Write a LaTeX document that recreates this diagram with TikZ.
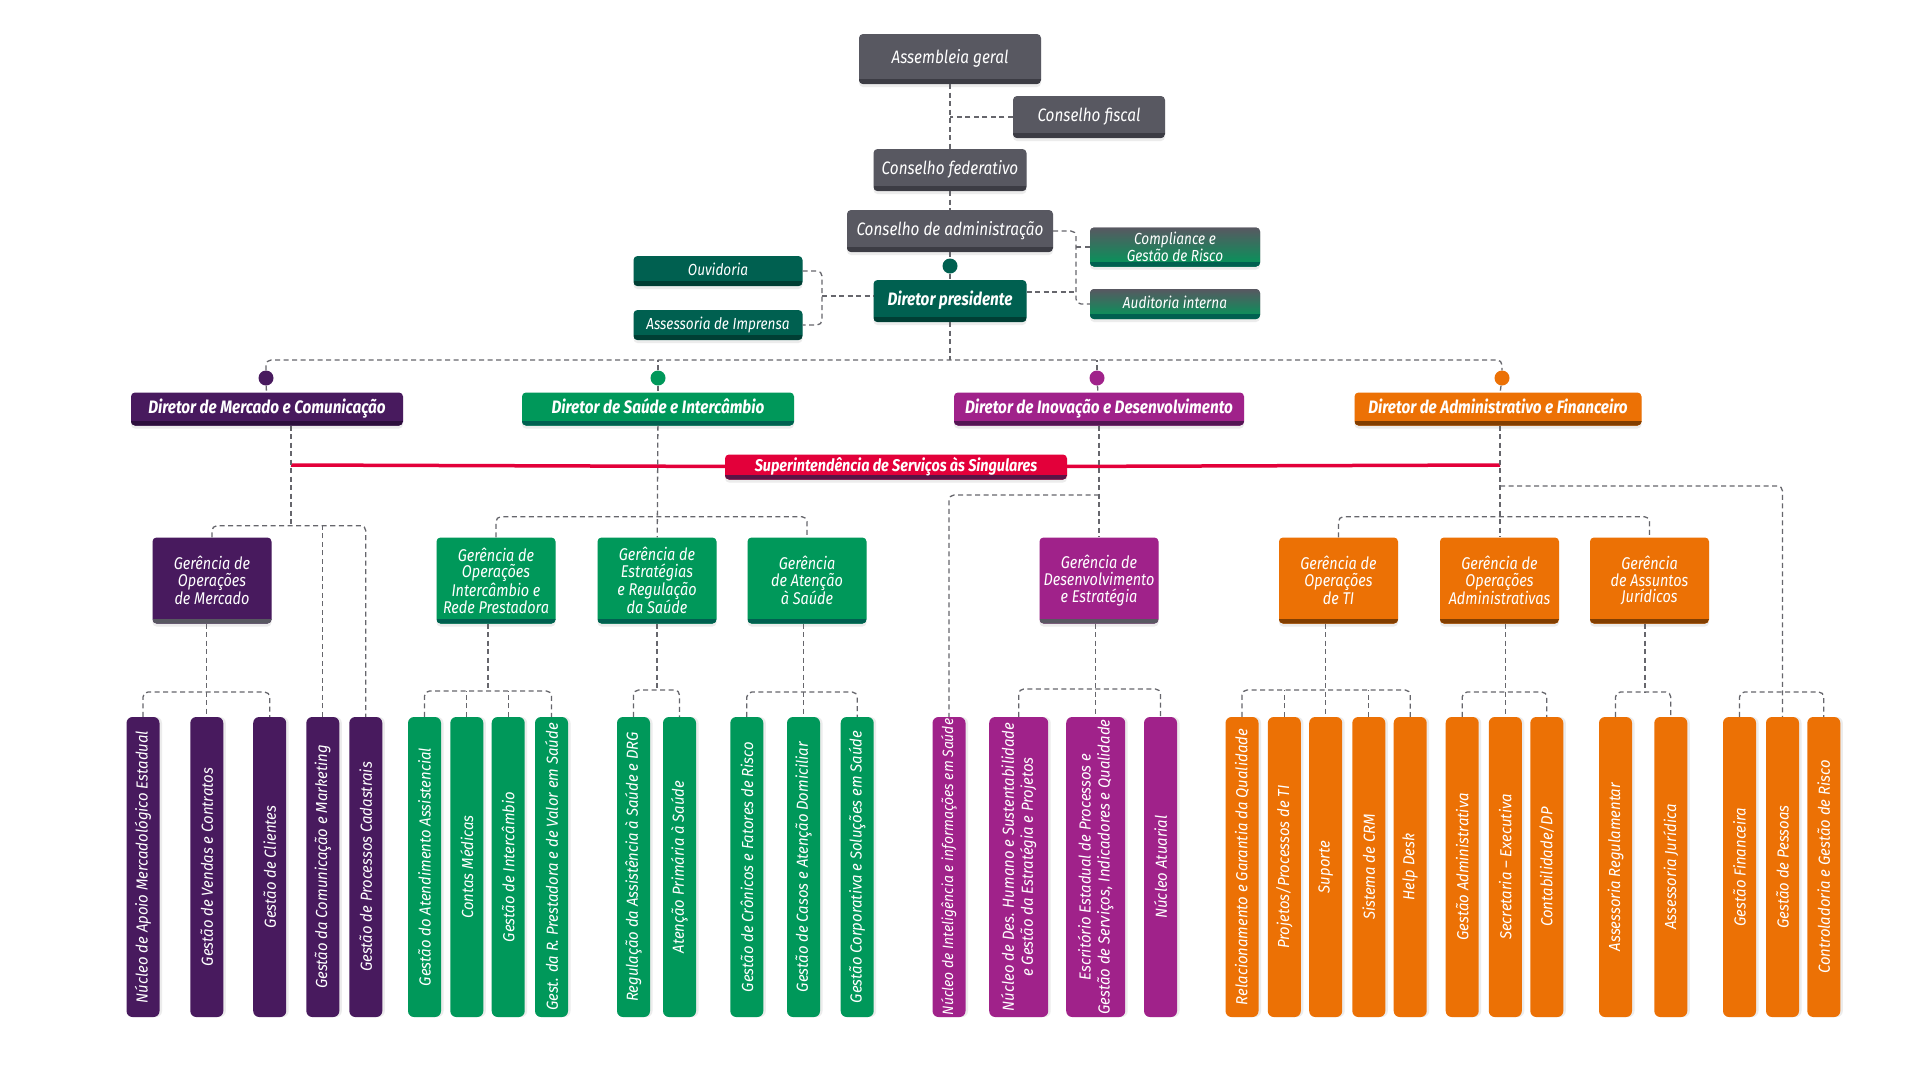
\documentclass[tikz,border=0pt]{standalone}
\usepackage{fontspec}
\setmainfont{Fira Sans}
\newfontfamily\orgfont{Fira Sans}[FakeStretch=0.85]
\newfontfamily\barfont{Fira Sans}[FakeStretch=0.93]
\usetikzlibrary{shadows}
\definecolor{cGray}{RGB}{88,88,97}
\definecolor{cGrayD}{RGB}{60,60,68}
\definecolor{cTeal}{RGB}{0,96,80}
\definecolor{cTealD}{RGB}{0,62,52}
\definecolor{cPurp}{RGB}{72,26,94}
\definecolor{cPurpD}{RGB}{44,14,60}
\definecolor{cGreen}{RGB}{0,152,90}
\definecolor{cMag}{RGB}{160,34,138}
\definecolor{cMagD}{RGB}{84,22,84}
\definecolor{cOrange}{RGB}{236,113,5}
\definecolor{cOrangeD}{RGB}{130,62,0}
\definecolor{cRed}{RGB}{227,0,58}
\definecolor{cRedD}{RGB}{90,20,70}
\definecolor{cLink}{RGB}{102,102,108}

\begin{document}
\begin{tikzpicture}[x=1pt,y=-1pt,
	box/.style 2 args={rounded corners=4pt, fill=#1, text=white, align=center, inner sep=0pt,
		drop shadow={shadow xshift=0pt, shadow yshift=-3pt, opacity=0.15},
		path picture={\fill[#2, sharp corners] (path picture bounding box.south west) rectangle ([yshift=5pt]path picture bounding box.south east);}},
	dot/.style={circle, fill=#1, inner sep=0pt, minimum size=15},
	link/.style={draw=cLink, line width=1.3pt, dash pattern=on 5pt off 3.5pt, rounded corners=5pt},
	redline/.style={draw=cRed, line width=3.5pt},
	bar/.style={rounded corners=6pt, fill=#1, text=white, align=center, inner sep=0pt, rotate=90,
		minimum width=300, drop shadow={shadow xshift=2.5pt, shadow yshift=0pt, opacity=0.15},
		font=\barfont\itshape\fontsize{16}{19}\selectfont},
	topf/.style={font=\orgfont\itshape\fontsize{18}{18}\selectfont, text height=13pt, text depth=4pt},
	boldf/.style={font=\orgfont\bfseries\itshape\fontsize{18}{18}\selectfont, text height=13pt, text depth=4pt},
	smallf/.style={font=\orgfont\itshape\fontsize{16}{15}\selectfont},
	oneline/.style={text height=11.5pt, text depth=3.5pt},
	gerf/.style={font=\orgfont\itshape\fontsize{17}{16.7}\selectfont, minimum width=119, minimum height=86}]
	\fill[white] (0,0) rectangle (1920,1080);

	\node[box={cGray}{cGrayD}, topf, minimum width=182, minimum height=50] (assembleia) at (950,59) {Assembleia geral};
	\node[box={cGray}{cGrayD}, topf, minimum width=152, minimum height=42] (fiscal) at (1089,117) {Conselho fiscal};
	\node[box={cGray}{cGrayD}, topf, minimum width=153, minimum height=42] (federativo) at (950,170) {Conselho federativo};
	\node[box={cGray}{cGrayD}, topf, minimum width=206, minimum height=42] (admin) at (950,231) {Conselho de administração};
	\node[dot=cTeal] (dotP) at (950,266) {};
	\node[box={cTeal}{cTealD}, boldf, minimum width=153, minimum height=42] (dpres) at (950,301) {Diretor presidente};
	\node[box={cTeal}{cTealD}, smallf, oneline, minimum width=169, minimum height=30] (ouvidoria) at (718,271) {Ouvidoria};
	\node[box={cTeal}{cTealD}, smallf, oneline, minimum width=169, minimum height=30] (imprensa) at (718,325) {Assessoria de Imprensa};
	\node[box={cGray}{cTeal}, top color=cGray, bottom color=cGreen, smallf, minimum width=170, minimum height=39] (compliance) at (1175,247) {Compliance e\\Gestão de Risco};
	\node[box={cGray}{cTeal}, top color=cGray, bottom color=cGreen, smallf, oneline, minimum width=170, minimum height=30] (auditoria) at (1175,304) {Auditoria interna};

	\node[box={cPurp}{cPurpD}, boldf, minimum width=272, minimum height=33] (dmerc) at (267,409) {Diretor de Mercado e Comunicação};
	\node[box={cGreen}{cTeal}, boldf, minimum width=272, minimum height=33] (dsaude) at (658,409) {Diretor de Saúde e Intercâmbio};
	\node[box={cMag}{cMagD}, boldf, minimum width=290, minimum height=33] (dinov) at (1099,409) {Diretor de Inovação e Desenvolvimento};
	\node[box={cOrange}{cOrangeD}, boldf, minimum width=287, minimum height=33] (dadm) at (1498,409) {Diretor de Administrativo e Financeiro};
	\node[dot=cPurp] (dotM) at (266,378) {};
	\node[dot=cGreen] (dotS) at (658,378) {};
	\node[dot=cMag] (dotI) at (1097,378) {};
	\node[dot=cOrange] (dotA) at (1502,378) {};

	\node[box={cPurp}{cGray}, gerf] (gMerc) at (212,580.5) {Gerência de\\Operações\\de Mercado};
	\node[box={cGreen}{cTeal}, gerf] (gInter) at (496,580.5) {Gerência de\\Operações\\Intercâmbio e\\Rede Prestadora};
	\node[box={cGreen}{cTeal}, gerf] (gEstr) at (657,580.5) {Gerência de\\Estratégias\\e Regulação\\da Saúde};
	\node[box={cGreen}{cTeal}, gerf] (gAten) at (807,580.5) {Gerência\\de Atenção\\à Saúde};
	\node[box={cMag}{cGray}, gerf] (gDesenv) at (1099,580.5) {Gerência de\\Desenvolvimento\\e Estratégia};
	\node[box={cOrange}{cOrangeD}, gerf] (gTI) at (1338.5,580.5) {Gerência de\\Operações\\de TI};
	\node[box={cOrange}{cOrangeD}, gerf] (gAdm) at (1499.5,580.5) {Gerência de\\Operações\\Administrativas};
	\node[box={cOrange}{cOrangeD}, gerf] (gJur) at (1649.5,580.5) {Gerência\\de Assuntos\\Jurídicos};

	\foreach \x/\w/\c/\n/\t in {
		143/33/cPurp/b1/{Núcleo de Apoio Mercadológico Estadual},
		206.8/33/cPurp/b2/{Gestão de Vendas e Contratos},
		269.7/33/cPurp/b3/{Gestão de Clientes},
		322.8/33/cPurp/b4/{Gestão da Comunicação e Marketing},
		365.8/33/cPurp/b5/{Gestão de Processos Cadastrais},
		424.5/33/cGreen/b6/{Gestão do Atendimento Assistencial},
		466.8/33/cGreen/b7/{Contas Médicas},
		508.2/33/cGreen/b8/{Gestão de Intercâmbio},
		551.5/33/cGreen/b9/{Gest. da R. Prestadora e de Valor em Saúde},
		633.5/33/cGreen/b10/{Regulação da Assistência à Saúde e DRG},
		679.5/33/cGreen/b11/{Atenção Primária à Saúde},
		746.8/33/cGreen/b12/{Gestão de Crônicos e Fatores de Risco},
		803.5/33/cGreen/b13/{Gestão de Casos e Atenção Domiciliar},
		857.2/33/cGreen/b14/{Gestão Corporativa e Soluções em Saúde},
		949/33/cMag/b15/{\fontsize{15}{19}\selectfont Núcleo de Inteligência e informações em Saúde},
		1018.7/59/cMag/b16/{Núcleo de Des. Humano e Sustentabilidade\\e Gestão da Estratégia e Projetos},
		1095.7/59/cMag/b17/{Escritório Estadual de Processos e\\Gestão de Serviços, Indicadores e Qualidade},
		1160.5/33/cMag/b18/{Núcleo Atuarial},
		1242/33/cOrange/b19/{Relacionamento e Garantia da Qualidade},
		1284.3/33/cOrange/b20/{Projetos/Processos de TI},
		1325.7/33/cOrange/b21/{Suporte},
		1368.8/33/cOrange/b22/{Sistema de CRM},
		1410.2/33/cOrange/b23/{Help Desk},
		1462.2/33/cOrange/b24/{Gestão Administrativa},
		1505.3/33/cOrange/b25/{Secretaria – Executiva},
		1546.8/33/cOrange/b26/{Contabilidade/DP},
		1615.5/33/cOrange/b27/{Assessoria Regulamentar},
		1670.8/33/cOrange/b28/{Assessoria Jurídica},
		1739.5/33/cOrange/b29/{Gestão Financeira},
		1782.5/33/cOrange/b30/{Gestão de Pessoas},
		1823.8/33/cOrange/b31/{Controladoria e Gestão de Risco}}
		\node[bar=\c, minimum height=\w] (\n) at (\x,867) {\t};

	\draw[link] (assembleia) -- (federativo) -- (admin) -- (dotP) -- (dpres);
	\draw[link] (fiscal) -- (fiscal -| federativo);
	\coordinate (jOuv) at (822,296);
	\draw[link] (ouvidoria) -| (jOuv) |- (imprensa);
	\draw[link] (jOuv) -- (jOuv -| dpres.west);
	\coordinate (jComp) at (1076,292);
	\draw[link] (admin) -| (jComp) |- (auditoria);
	\draw[link] (compliance) -- (compliance -| jComp);
	\draw[link] (dpres.east |- jComp) -- (jComp);

	\coordinate (hub) at (950,360);
	\draw[link] (dpres) -- (hub);
	\draw[link] (dotM) |- (hub) -| (dotA);
	\draw[link] (dotS) -- (dotS |- hub);
	\draw[link] (dotI) -- (dotI |- hub);
	\foreach \d/\e in {dotM/dmerc, dotS/dsaude, dotI/dinov, dotA/dadm}
		\draw[link] (\d) -- (\e);

	\coordinate (rL) at (291,465);
	\coordinate (rR) at (1500,465);
	\node[box={cRed}{cRedD}, font=\orgfont\bfseries\itshape\fontsize{17}{17}\selectfont, text height=12pt, text depth=4pt, minimum width=342, minimum height=25] (superint) at (896,467) {Superintendência de Serviços às Singulares};
	\draw[redline] (rL) -- (superint) -- (rR);

	\coordinate (jMercT) at (291,525.7);
	\draw[link] (dmerc.south -| jMercT) -- (jMercT);
	\draw[link] (gMerc.north) |- (jMercT) -| (b5.east);
	\draw[link] (b4.east) -- (b4.east |- jMercT);
	\coordinate (jMerc) at (207,692);
	\draw[link] (gMerc.south -| b2.east) -- (b2.east);
	\draw[link] (b1.east) |- (jMerc) -| (b3.east);

	\coordinate (jSau) at (658,516.7);
	\draw[link] (dsaude) -- (gEstr);
	\draw[link] (gInter.north) |- (jSau) -| (gAten.north);
	\coordinate (jInter) at (488,691);
	\draw[link] (gInter.south -| jInter) -- (jInter);
	\draw[link] (b6.east) |- (jInter) -| (b9.east);
	\foreach \b in {b7,b8}
		\draw[link] (\b.east) -- (\b.east |- jInter);
	\coordinate (jEstr) at (657,690);
	\draw[link] (gEstr.south -| jEstr) -- (jEstr);
	\draw[link] (b10.east) |- (jEstr) -| (b11.east);
	\coordinate (jAten) at (803.5,692);
	\draw[link] (gAten.south -| b13.east) -- (b13.east);
	\draw[link] (b12.east) |- (jAten) -| (b14.east);

	\coordinate (jInov) at (1099,495);
	\draw[link] (dinov) -- (gDesenv);
	\draw[link] (jInov) -| (b15.east);
	\coordinate (jDes) at (1095.7,689);
	\draw[link] (gDesenv.south -| b17.east) -- (b17.east);
	\draw[link] (b16.east) |- (jDes) -| (b18.east);

	\coordinate (jAdmG) at (1500,516.7);
	\coordinate (jAdmR) at (1500,486);
	\draw[link] (dadm.south -| jAdmR) -- (gAdm.north -| jAdmR);
	\draw[link] (gTI.north) |- (jAdmG) -| (gJur.north);
	\draw[link] (jAdmR) -| (b30.east);
	\coordinate (jTI) at (1325.7,690);
	\draw[link] (gTI.south -| b21.east) -- (b21.east);
	\draw[link] (b19.east) |- (jTI) -| (b23.east);
	\foreach \b in {b20,b22}
		\draw[link] (\b.east) -- (\b.east |- jTI);
	\coordinate (jAdm) at (1505.3,692);
	\draw[link] (gAdm.south -| b25.east) -- (b25.east);
	\draw[link] (b24.east) |- (jAdm) -| (b26.east);
	\coordinate (jJur) at (1645,692);
	\draw[link] (gJur.south -| jJur) -- (jJur);
	\draw[link] (b27.east) |- (jJur) -| (b28.east);
	\coordinate (jFin) at (1782.5,692);
	\draw[link] (b29.east) |- (jFin) -| (b31.east);
\end{tikzpicture}
\end{document}
